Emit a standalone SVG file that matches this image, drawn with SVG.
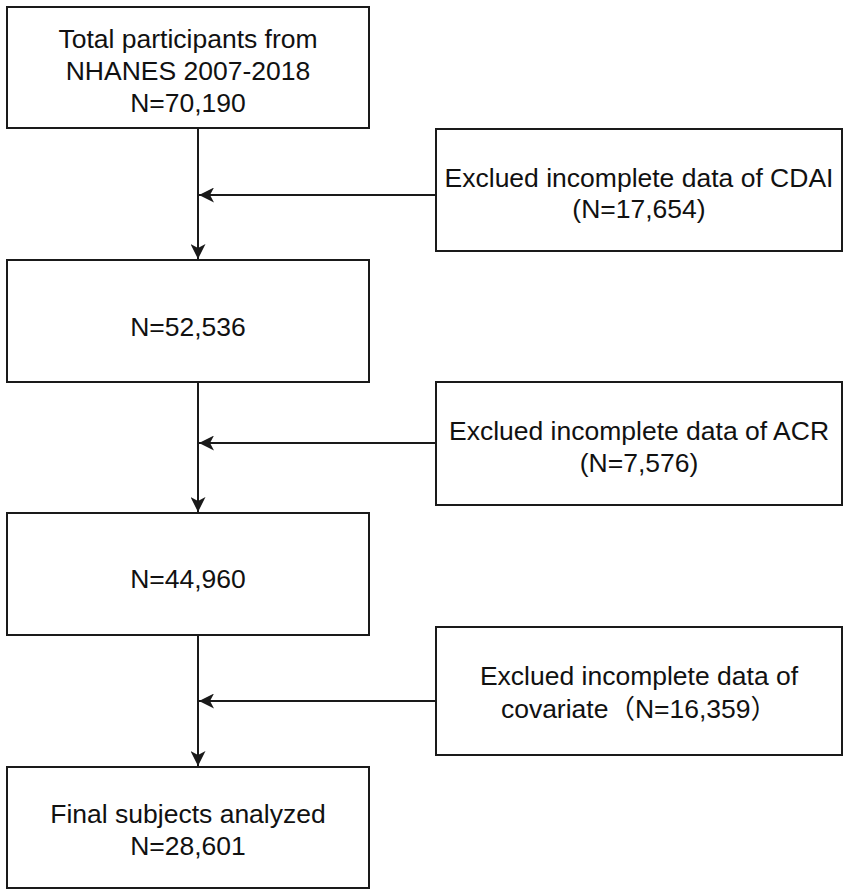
<svg xmlns="http://www.w3.org/2000/svg" width="850" height="896" viewBox="0 0 850 896">
  <defs>
    <style>
      .box { fill: #ffffff; stroke: #1a1a1a; stroke-width: 2; }
      .lbl { font-family: "Liberation Sans", Arial, "Noto Sans CJK SC", sans-serif; font-size: 26.5px; fill: #111111; text-anchor: middle; }
      .conn { fill: none; stroke: #1a1a1a; stroke-width: 2; marker-end: url(#arrow); }
    </style>
    <marker id="arrow" viewBox="0 0 15 15" refX="15" refY="7.5" markerWidth="15" markerHeight="15" markerUnits="userSpaceOnUse" orient="auto">
      <path d="M15,7.5 L0,0 L4,7.5 L0,15 Z" fill="#1a1a1a"/>
    </marker>
  </defs>
  <rect width="850" height="896" fill="#ffffff"/>

  <g id="connectors">
    <path class="conn" d="M198,128 L198,259"/>
    <path class="conn" d="M436,195 L199,195"/>
    <path class="conn" d="M198,382 L198,512"/>
    <path class="conn" d="M436,443 L199,443"/>
    <path class="conn" d="M198,635 L198,766"/>
    <path class="conn" d="M436,701 L199,701"/>
  </g>

  <g id="total">
    <rect class="box" x="7" y="7" width="362" height="121"/>
    <text class="lbl" x="188" y="48">Total participants from</text>
    <text class="lbl" x="188" y="80">NHANES 2007-2018</text>
    <text class="lbl" x="188" y="112">N=70,190</text>
  </g>

  <g id="excl-cdai">
    <rect class="box" x="436" y="129" width="406" height="122"/>
    <text class="lbl" x="639" y="187">Exclued incomplete data of CDAI</text>
    <text class="lbl" x="639" y="218">(N=17,654)</text>
  </g>

  <g id="n52536">
    <rect class="box" x="7" y="260" width="362" height="122"/>
    <text class="lbl" x="188" y="336">N=52,536</text>
  </g>

  <g id="excl-acr">
    <rect class="box" x="436" y="382" width="406" height="123"/>
    <text class="lbl" x="639" y="440">Exclued incomplete data of ACR</text>
    <text class="lbl" x="639" y="472">(N=7,576)</text>
  </g>

  <g id="n44960">
    <rect class="box" x="7" y="513" width="362" height="122"/>
    <text class="lbl" x="188" y="588">N=44,960</text>
  </g>

  <g id="excl-covariate">
    <rect class="box" x="436" y="627" width="406" height="128"/>
    <text class="lbl" x="639" y="685">Exclued incomplete data of</text>
    <text class="lbl" x="639" y="718">covariate（N=16,359）</text>
  </g>

  <g id="final">
    <rect class="box" x="7" y="767" width="362" height="121"/>
    <text class="lbl" x="188" y="823">Final subjects analyzed</text>
    <text class="lbl" x="188" y="855">N=28,601</text>
  </g>
</svg>
